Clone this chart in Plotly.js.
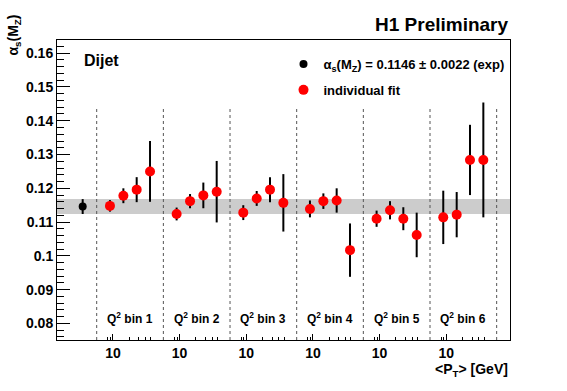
<!DOCTYPE html>
<html>
<head>
<meta charset="utf-8">
<script src="https://cdn.plot.ly/plotly-3.0.1.min.js"></script>
<style>html,body{margin:0;padding:0;background:#fff}#chart{width:567px;height:391px}</style>
</head>
<body>
<div id="chart"></div>
<script>
// ---- data ----
const Q2_BINS = ['1', '2', '3', '4', '5', '6'];
const PT_MEAN = [8.8, 15.6, 27.5, 48.6];          // <P_T> of the 4 points in each Q2 bin (GeV)
const PT_LO = 5;                                   // lower edge of each Q2-bin panel (GeV)
const PT_HI = 85.8;                                // upper edge of each Q2-bin panel (GeV)
const ALPHA_BIN1 = [0.1148, 0.1178, 0.1196, 0.1250];
const ALPHA_BIN2 = [0.1124, 0.1162, 0.1179, 0.1190];
const ALPHA_BIN3 = [0.1128, 0.1170, 0.1196, 0.1157];
const ALPHA_BIN4 = [0.1139, 0.1162, 0.1164, 0.1017];
const ALPHA_BIN5 = [0.1110, 0.1135, 0.1110, 0.1062];
const ALPHA_BIN6 = [0.1114, 0.1122, 0.1284, 0.1284];
const ERR_BIN1 = [0.0017, 0.0022, 0.0037, 0.0090];
const ERR_BIN2 = [0.0019, 0.0021, 0.0038, 0.0091];
const ERR_BIN3 = [0.0022, 0.0022, 0.0037, 0.0085];
const ERR_BIN4 = [0.0025, 0.0023, 0.0036, 0.0079];
const ERR_BIN5 = [0.0024, 0.0027, 0.0034, 0.0066];
const ERR_BIN6 = [0.0079, 0.0067, 0.0104, 0.0170];
const GLOBAL_ALPHA = 0.1146;
const GLOBAL_ERR = 0.0022;
const GLOBAL_PT = 2.75;
const X_TICK_VALUE = 10;
const X_TICK_LABEL = '10';
const X_MINOR_VALUES = [8, 9, 20, 30, 40, 50];

// ---- build ----
const ALPHA = [ALPHA_BIN1, ALPHA_BIN2, ALPHA_BIN3, ALPHA_BIN4, ALPHA_BIN5, ALPHA_BIN6];
const ERR = [ERR_BIN1, ERR_BIN2, ERR_BIN3, ERR_BIN4, ERR_BIN5, ERR_BIN6];
const F = PT_HI / PT_LO;   // each Q2 bin is shifted by one panel on the log axis
const shift = (pt, k) => pt * Math.pow(F, k);

const fx = [], fy = [], fe = [];
Q2_BINS.forEach((b, k) => {
  PT_MEAN.forEach((pt, i) => { fx.push(shift(pt, k)); fy.push(ALPHA[k][i]); fe.push(ERR[k][i]); });
});

const YMIN = 0.0751, YMAX = 0.1639;
const FONT = 'Liberation Sans, Arial, Helvetica, sans-serif';

const traces = [
  {
    x: [GLOBAL_PT], y: [GLOBAL_ALPHA], type: 'scatter', mode: 'markers',
    name: '<b>α<sub>s</sub>(M<sub>Z</sub>) = 0.1146 ± 0.0022 (exp)</b>',
    legendgroup: 'g1',
    marker: { color: 'black', size: 8 },
    error_y: { type: 'data', array: [GLOBAL_ERR], visible: true, color: 'black', thickness: 2, width: 0 }
  },
  {
    x: fx, y: fy, type: 'scatter', mode: 'markers',
    name: '<b>individual fit</b>',
    legendgroup: 'g2',
    marker: { color: '#ff0000', size: 10 },
    error_y: { type: 'data', array: fe, visible: true, color: 'black', thickness: 2, width: 0 }
  }
];

const shapes = [{
  type: 'rect', xref: 'paper', x0: 0, x1: 1, yref: 'y',
  y0: GLOBAL_ALPHA - GLOBAL_ERR, y1: GLOBAL_ALPHA + GLOBAL_ERR,
  fillcolor: '#cccccc', line: { width: 0 }, layer: 'below'
}];
for (let k = 0; k <= Q2_BINS.length; k++) {
  const xv = shift(PT_LO, k);
  shapes.push({
    type: 'line', xref: 'x', yref: 'y', x0: xv, x1: xv, y0: YMIN, y1: 0.1435,
    line: { color: '#555', width: 1, dash: '3px,3px' }, layer: 'below'
  });
}

const tickvals = Q2_BINS.map((b, k) => shift(X_TICK_VALUE, k));
const ticktext = Q2_BINS.map(() => X_TICK_LABEL);
const minorvals = [];
Q2_BINS.forEach((b, k) => X_MINOR_VALUES.forEach(v => minorvals.push(shift(v, k))));

const annotations = Q2_BINS.map((b, k) => ({
  x: Math.log10(shift(Math.sqrt(PT_LO * PT_HI), k)), xref: 'x', y: 0.073, yref: 'paper',
  text: 'Q<sup>2</sup> bin ' + b, showarrow: false, xanchor: 'center', yanchor: 'middle',
  font: { family: FONT, size: 12, color: 'black', weight: 'bold' }
}));
annotations.push(
  { x: 1, y: 1.053, xref: 'paper', yref: 'paper', text: 'H1 Preliminary', showarrow: false,
    xanchor: 'right', yanchor: 'middle', font: { family: FONT, size: 19, color: 'black', weight: 'bold' } },
  { x: 0.055, y: 0.933, xref: 'paper', yref: 'paper', text: 'Dijet', showarrow: false,
    xanchor: 'left', yanchor: 'middle', font: { family: FONT, size: 16, color: 'black', weight: 'bold' } },
  { x: 1, y: -0.1, xref: 'paper', yref: 'paper', text: '&lt;P<sub>T</sub>&gt; [GeV]', showarrow: false,
    xanchor: 'right', yanchor: 'middle', font: { family: FONT, size: 14, color: 'black', weight: 'bold' } },
  { x: -0.095, y: 1.093, xref: 'paper', yref: 'paper', text: 'α<sub>s</sub>(M<sub>Z</sub>)', showarrow: false,
    textangle: -90, xanchor: 'center', yanchor: 'top', font: { family: FONT, size: 14, color: 'black', weight: 'bold' } }
);

const layout = {
  width: 567, height: 391,
  margin: { l: 57, r: 57, t: 40, b: 51 },
  paper_bgcolor: 'white', plot_bgcolor: 'white',
  font: { family: FONT, color: 'black', weight: 'bold' },
  showlegend: true,
  legend: { x: 0.5, y: 0.97, xanchor: 'left', yanchor: 'top', bgcolor: 'rgba(0,0,0,0)',
            font: { family: FONT, size: 13, color: 'black', weight: 'bold' },
            traceorder: 'grouped', tracegroupgap: 6 },
  xaxis: {
    type: 'log', range: [Math.log10(0.92), Math.log10(PT_LO * Math.pow(F, 6.2))],
    tickmode: 'array', tickvals: tickvals, ticktext: ticktext,
    ticks: 'inside', ticklen: 6, tickwidth: 1, tickcolor: 'black',
    showline: true, linecolor: 'black', linewidth: 1, mirror: true,
    showgrid: false, zeroline: false,
    tickfont: { family: FONT, size: 14, color: 'black', weight: 'bold' },
    minor: { tickmode: 'array', tickvals: minorvals, ticks: 'inside', ticklen: 3, tickcolor: 'black', showgrid: false }
  },
  yaxis: {
    range: [YMIN, YMAX], tick0: 0, dtick: 0.01,
    ticks: 'inside', ticklen: 13, tickwidth: 1, tickcolor: 'black',
    showline: true, linecolor: 'black', linewidth: 1, mirror: true,
    showgrid: false, zeroline: false,
    tickfont: { family: FONT, size: 14, color: 'black', weight: 'bold' },
    minor: { dtick: 0.002, tick0: 0, ticks: 'inside', ticklen: 7, tickcolor: 'black', showgrid: false }
  },
  shapes: shapes,
  annotations: annotations
};

Plotly.newPlot('chart', traces, layout, { displayModeBar: false, staticPlot: true });
</script>
</body>
</html>
